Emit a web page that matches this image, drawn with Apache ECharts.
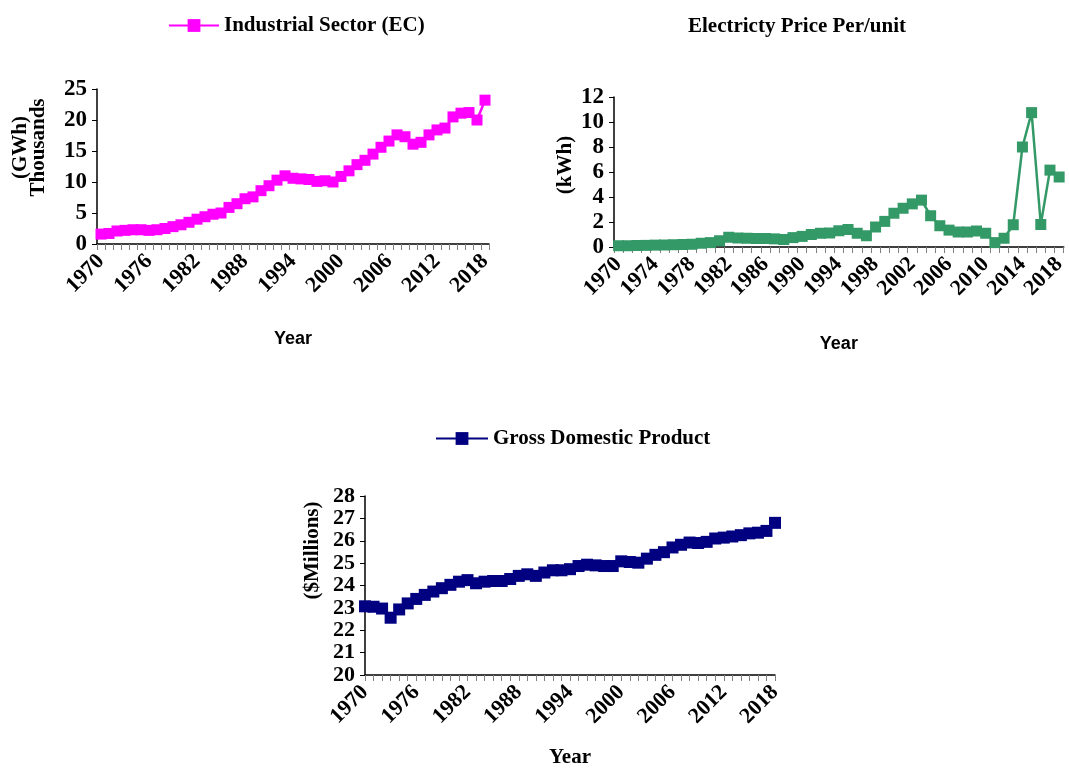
<!DOCTYPE html>
<html>
<head>
<meta charset="utf-8">
<script src="https://cdn.jsdelivr.net/npm/echarts@6/dist/echarts.min.js"></script>
<style>
html,body{margin:0;padding:0;background:#fff;}
#main{width:1069px;height:769px;}
</style>
</head>
<body>
<div id="main"></div>
<script>
const years = ['1970','1971','1972','1973','1974','1975','1976','1977','1978','1979',
'1980','1981','1982','1983','1984','1985','1986','1987','1988','1989',
'1990','1991','1992','1993','1994','1995','1996','1997','1998','1999',
'2000','2001','2002','2003','2004','2005','2006','2007','2008','2009',
'2010','2011','2012','2013','2014','2015','2016','2017','2018'];

// Industrial Sector electricity consumption (GWh, thousands)
const industrialEC = [1.6,1.7,2.1,2.2,2.3,2.3,2.2,2.3,2.5,2.8,
3.1,3.5,4.0,4.4,4.8,5.0,5.9,6.5,7.3,7.6,
8.6,9.4,10.3,11.0,10.6,10.5,10.4,10.1,10.2,10.0,
10.9,11.8,12.8,13.5,14.5,15.6,16.6,17.6,17.3,16.1,
16.4,17.6,18.4,18.7,20.5,21.1,21.2,20.0,23.2];

// Electricity price per unit (kWh)
const electricityPrice = [0.1,0.1,0.12,0.13,0.15,0.16,0.18,0.2,0.22,0.3,
0.35,0.5,0.78,0.72,0.7,0.68,0.68,0.65,0.6,0.75,
0.85,1.0,1.1,1.12,1.3,1.4,1.1,0.9,1.6,2.05,
2.7,3.1,3.45,3.75,2.5,1.7,1.35,1.2,1.2,1.28,
1.1,0.35,0.7,1.78,8.0,10.75,1.8,6.15,5.6];

// Gross Domestic Product ($Millions)
const gdp = [23.07,23.05,22.97,22.56,22.93,23.2,23.4,23.58,23.73,23.88,
24.03,24.17,24.24,24.1,24.17,24.2,24.2,24.29,24.43,24.5,
24.43,24.58,24.68,24.68,24.73,24.87,24.93,24.9,24.87,24.87,
25.08,25.05,25.02,25.2,25.37,25.49,25.7,25.82,25.92,25.9,
25.95,26.1,26.14,26.19,26.25,26.33,26.36,26.44,26.8];

const serif = '"Liberation Serif", "Times New Roman", serif';
const sans = '"Liberation Sans", Arial, sans-serif';

function xAx(gi, labelInterval, boundaryGap, nameFont, nameSize, nameGap, margin) {
  return {
    type: 'category', gridIndex: gi, data: years, boundaryGap: boundaryGap,
    axisLine: {lineStyle: {color: '#000', width: 1.5}},
    axisTick: {show: true, interval: 0, length: 6, lineStyle: {color: '#808080', width: 1}},
    axisLabel: {interval: labelInterval, rotate: 45, margin: margin, color: '#000',
      fontFamily: serif, fontWeight: 'bold', fontSize: 22},
    name: 'Year', nameLocation: 'middle', nameGap: nameGap,
    nameTextStyle: {color: '#000', fontFamily: nameFont, fontWeight: 'bold', fontSize: nameSize},
    splitLine: {show: false}
  };
}
function yAx(gi, min, max, interval, name, nameGap, pad, labelSize) {
  return {
    type: 'value', gridIndex: gi, min: min, max: max, interval: interval,
    axisLine: {show: true, lineStyle: {color: '#000', width: 1.5}},
    axisTick: {show: true, length: 5, lineStyle: {color: '#000'}},
    axisLabel: {color: '#000', fontFamily: serif, fontWeight: 'bold', fontSize: labelSize, margin: 10},
    splitLine: {show: false},
    name: name, nameLocation: 'middle', nameGap: nameGap, nameRotate: 90,
    nameTextStyle: {color: '#000', fontFamily: serif, fontWeight: 'bold', fontSize: 21,
      lineHeight: 18, padding: pad}
  };
}

const chart = echarts.init(document.getElementById('main'), null, {renderer: 'canvas'});
chart.setOption({
  backgroundColor: '#fff',
  animation: false,
  title: {
    text: 'Electricty Price Per/unit', left: 792, top: 11, textAlign: 'center',
    textStyle: {fontFamily: serif, fontWeight: 'bold', fontSize: 21, color: '#000'}
  },
  legend: [
    {data: ['Industrial Sector (EC)'], left: 168, top: 15, padding: 0, itemWidth: 50, itemHeight: 16,
      itemGap: 5, textStyle: {fontFamily: serif, fontWeight: 'bold', fontSize: 21, color: '#000'}},
    {data: ['Gross Domestic Product'], left: 435, top: 428, padding: 0, itemWidth: 52, itemHeight: 16,
      itemGap: 5, textStyle: {fontFamily: serif, fontWeight: 'bold', fontSize: 21, color: '#000'}}
  ],
  grid: [
    {left: 97, top: 89, width: 392, height: 155},
    {left: 614, top: 97, width: 454, height: 150},
    {left: 365, top: 496, width: 410, height: 182}
  ],
  xAxis: [
    xAx(0, 5, true, sans, 18, 86, 14),
    xAx(1, 3, true, sans, 18, 88, 14),
    xAx(2, 5, false, serif, 21, 72, 14)
  ],
  yAxis: [
    yAx(0, 0, 25, 5, '(GWh)\nThousands', 49, [0, 0, 0, 38], 23),
    yAx(1, 0, 12, 2, '(kWh)', 39, [0, 0, 0, 14], 23),
    yAx(2, 20, 28, 1, '($Millions)', 43, [0, 0, 0, 70], 22)
  ],
  series: [
    {name: 'Industrial Sector (EC)', type: 'line', xAxisIndex: 0, yAxisIndex: 0, data: industrialEC,
      symbol: 'rect', symbolSize: 11, showAllSymbol: true, color: '#FF00FF',
      lineStyle: {width: 2.5, color: '#FF00FF'}, itemStyle: {color: '#FF00FF'}},
    {name: 'Electricity Price', type: 'line', xAxisIndex: 1, yAxisIndex: 1, data: electricityPrice,
      symbol: 'rect', symbolSize: 11, showAllSymbol: true, color: '#339966',
      lineStyle: {width: 2.5, color: '#339966'}, itemStyle: {color: '#339966'}},
    {name: 'Gross Domestic Product', type: 'line', xAxisIndex: 2, yAxisIndex: 2, data: gdp,
      symbol: 'rect', symbolSize: 12, showAllSymbol: true, color: '#000080',
      lineStyle: {width: 2.5, color: '#000080'}, itemStyle: {color: '#000080'}}
  ]
});
</script>
</body>
</html>
